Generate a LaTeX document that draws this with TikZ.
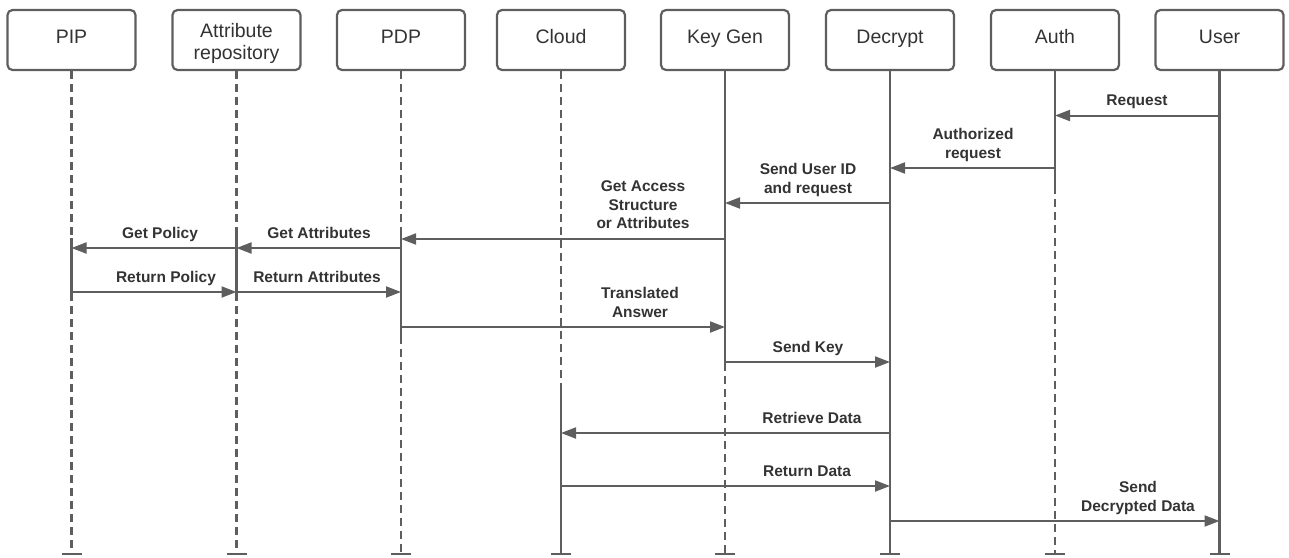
\documentclass[tikz,border=0pt]{standalone}
\usepackage{fontspec}
\setmainfont{Liberation Sans}
\usetikzlibrary{arrows.meta}
\definecolor{ln}{HTML}{5E5E5E}
\definecolor{tx}{HTML}{333333}
% stacked lines whose reference point is the baseline of the last line
\newcommand{\stk}[1]{\begin{tabular}[b]{@{}c@{}}#1\end{tabular}}

\begin{document}
\begin{tikzpicture}[x=1pt,y=-1pt,
  actor/.style={draw=ln,line width=2.2pt,rounded corners=5pt,
    minimum width=128pt,minimum height=60pt,inner sep=0pt},
  actortxt/.style={text=tx,font=\fontsize{19.5}{22.5}\selectfont,
    inner sep=0pt,anchor=base},
  life/.style={draw=ln,line width=2.4pt},
  lifedash/.style={life,dash pattern=on 8pt off 5pt},
  msg/.style={draw=ln,line width=2pt,-{Triangle[length=15pt,width=11pt]}},
  lbl/.style={text=tx,font=\bfseries\fontsize{15.5}{18.4}\selectfont,
    inner sep=0pt,anchor=base},
  endcap/.style={draw=ln,line width=2.4pt}]

\useasboundingbox (0,0) rectangle (1289,557);

% participants
\node[actor] (pip)     at (71.5,40)  {};
\node[actor] (attr)    at (236.5,40) {};
\node[actor] (pdp)     at (401,40)   {};
\node[actor] (cloud)   at (561,40)   {};
\node[actor] (keygen)  at (725,40)   {};
\node[actor] (decrypt) at (890,40)   {};
\node[actor] (auth)    at (1055,40)  {};
\node[actor] (user)    at (1219.5,40){};

\node[actortxt] (pipT)     at ([yshift=-3pt]pip.center)     {PIP};
\node[actortxt] (attrT)    at ([yshift=-19.5pt]attr.center) {\stk{Attribute\\repository}};
\node[actortxt] (pdpT)     at ([yshift=-3pt]pdp.center)     {PDP};
\node[actortxt] (cloudT)   at ([yshift=-3pt]cloud.center)   {Cloud};
\node[actortxt] (keygenT)  at ([yshift=-3pt]keygen.center)  {Key Gen};
\node[actortxt] (decryptT) at ([yshift=-3pt]decrypt.center) {Decrypt};
\node[actortxt] (authT)    at ([yshift=-3pt]auth.center)    {Auth};
\node[actortxt] (userT)    at ([yshift=-3pt]user.center)    {User};

% switch points of the lifelines
\coordinate (bot)     at (0,554);
\coordinate (pipA)    at (0,238);
\coordinate (pipB)    at (0,293);
\coordinate (attrA)   at (0,234);
\coordinate (attrB)   at (0,293);
\coordinate (pdpA)    at (0,230);
\coordinate (pdpB)    at (0,336);
\coordinate (cloudA)  at (0,386);
\coordinate (keygenB) at (0,363);
\coordinate (authB)   at (0,186);

% lifelines
\draw[lifedash] (pip.south) -- (pip |- pipA);
\draw[life]     (pip |- pipA) -- (pip |- pipB);
\draw[lifedash] (pip |- pipB) -- (pip |- bot);

\draw[lifedash] (attr.south) -- (attr |- attrA);
\draw[life]     (attr |- attrA) -- (attr |- attrB);
\draw[lifedash] (attr |- attrB) -- (attr |- bot);

\draw[lifedash] (pdp.south) -- (pdp |- pdpA);
\draw[life]     (pdp |- pdpA) -- (pdp |- pdpB);
\draw[lifedash] (pdp |- pdpB) -- (pdp |- bot);

\draw[lifedash] (cloud.south) -- (cloud |- cloudA);
\draw[life]     (cloud |- cloudA) -- (cloud |- bot);

\draw[life]     (keygen.south) -- (keygen |- keygenB);
\draw[lifedash] (keygen |- keygenB) -- (keygen |- bot);

\draw[life]     (decrypt.south) -- (decrypt |- bot);

\draw[life]     (auth.south) -- (auth |- authB);
\draw[lifedash] (auth |- authB) -- (auth |- bot);

\draw[life]     (user.south) -- (user |- bot);

% end marks
\foreach \p in {pip,attr,pdp,cloud,keygen,decrypt,auth,user}
  \draw[endcap] ([xshift=-10pt]\p |- bot) -- ([xshift=10pt]\p |- bot);

% message rows
\coordinate (m1)  at (0,115.5);
\coordinate (m2)  at (0,168);
\coordinate (m3)  at (0,203);
\coordinate (m4)  at (0,239);
\coordinate (m5)  at (0,248);
\coordinate (m6)  at (0,292);
\coordinate (m7)  at (0,327);
\coordinate (m8)  at (0,362);
\coordinate (m9)  at (0,433);
\coordinate (m10) at (0,486);
\coordinate (m11) at (0,521);

% messages
\draw[msg] (user |- m1) -- (auth |- m1);
\draw[msg] (auth |- m2) -- (decrypt |- m2);
\draw[msg] (decrypt |- m3) -- (keygen |- m3);
\draw[msg] (keygen |- m4) -- (pdp |- m4);
\draw[msg] (attr |- m5) -- (pip |- m5);
\draw[msg] (pdp |- m5) -- (attr |- m5);
\draw[msg] (pip |- m6) -- (attr |- m6);
\draw[msg] (attr |- m6) -- (pdp |- m6);
\draw[msg] (pdp |- m7) -- (keygen |- m7);
\draw[msg] (keygen |- m8) -- (decrypt |- m8);
\draw[msg] (decrypt |- m9) -- (cloud |- m9);
\draw[msg] (cloud |- m10) -- (decrypt |- m10);
\draw[msg] (decrypt |- m11) -- (user |- m11);

% message labels, last baseline 10pt above the arrow
\node[lbl] (l1)  at ([yshift=10pt]1137,0 |- m1)  {Request};
\node[lbl] (l2)  at ([yshift=10pt]973,0 |- m2)   {\stk{Authorized\\request}};
\node[lbl] (l3)  at ([yshift=10pt]808,0 |- m3)   {\stk{Send User ID\\and request}};
\node[lbl] (l4)  at ([yshift=10.5pt]643,0 |- m4) {\stk{Get Access\\Structure\\or Attributes}};
\node[lbl] (l5)  at ([yshift=10pt]160,0 |- m5)   {Get Policy};
\node[lbl] (l6)  at ([yshift=10pt]319,0 |- m5)   {Get Attributes};
\node[lbl] (l7)  at ([yshift=10pt]166,0 |- m6)   {Return Policy};
\node[lbl] (l8)  at ([yshift=10pt]317,0 |- m6)   {Return Attributes};
\node[lbl] (l9)  at ([yshift=10pt]640,0 |- m7)   {\stk{Translated\\Answer}};
\node[lbl] (l10) at ([yshift=10pt]808,0 |- m8)   {Send Key};
\node[lbl] (l11) at ([yshift=10pt]812,0 |- m9)   {Retrieve Data};
\node[lbl] (l12) at ([yshift=10pt]807,0 |- m10)  {Return Data};
\node[lbl] (l13) at ([yshift=10pt]1138,0 |- m11) {\stk{Send\\Decrypted Data}};
\end{tikzpicture}
\end{document}
